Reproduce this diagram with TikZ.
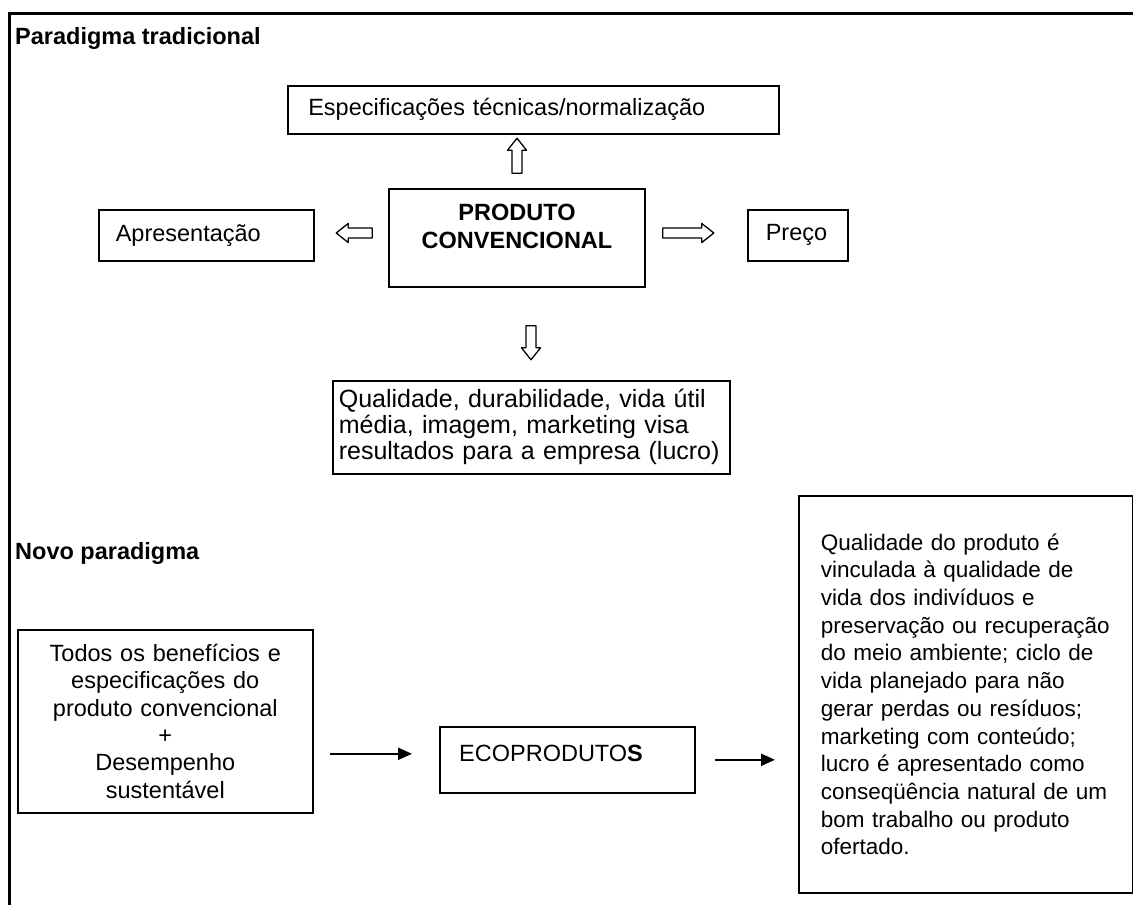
\documentclass[tikz,border=0pt]{standalone}
\usepackage{fontspec}
\setmainfont{Liberation Sans}
\usetikzlibrary{arrows.meta,calc}
\newcommand{\txtsize}[2]{\fontsize{#1}{#2}\selectfont}
\begin{document}
\begin{tikzpicture}[x=1pt,y=-1pt,
  every node/.style={font=\txtsize{23.5}{27}},
  box/.style={draw, line width=1.6pt, anchor=north west, inner ysep=0pt, align=left},
  plain/.style={inner sep=0pt},
  heading/.style={plain, anchor=base west, font=\bfseries\txtsize{23.5}{27}},
  thinarrow/.style={line width=2pt, -{Triangle[length=14pt,width=12pt]}},
  arrowline/.style={draw, line width=1.3pt, line join=round, fill=white},
  pics/harrow/.style={code={
    \path[arrowline] (0,-5) -- ({#1-12},-5) -- ({#1-12},-9.5) -- (#1,0)
      -- ({#1-12},9.5) -- ({#1-12},5) -- (0,5) -- cycle;}}
]
\fill[white] (0,0) rectangle (1133,905);
\useasboundingbox (0,0) rectangle (1133,905);

% outer frame (top and left sides)
\draw[line width=3pt] (9.5,906) -- (9.5,13) -- (1134,13);

% ---- traditional paradigm ----
\node[heading] (t1) at (15,44) {Paradigma tradicional};

\node[box, minimum height=48pt, text width=450pt, inner xsep=20.5pt] (spec) at (287,85)
  {Especificações técnicas/normalização};

\node[draw, line width=1.6pt, minimum width=256pt, minimum height=98pt, inner sep=0pt] (prod) at (517,238) {};
\node[plain, align=center, font=\bfseries\txtsize{23.5}{28}] (prodtxt) at ([yshift=12pt]prod.center)
  {PRODUTO\\CONVENCIONAL};

\node[box, minimum height=51pt, text width=181pt, inner xsep=17pt] (apres) at (98,209) {Apresentação};
\node[box, minimum height=51pt, text width=64pt, inner xsep=18pt] (preco) at (747,209) {Preço};

\node[box, minimum height=93pt, text width=385pt, inner xsep=6pt, font=\txtsize{25}{26}] (qual) at (332,380)
  {Qualidade, durabilidade, vida útil\\média, imagem, marketing visa\\resultados para a empresa (lucro)};

% hollow block arrows around the conventional product
\pic[rotate=90] at ([yshift=15pt]prod.north) {harrow=35};
\pic[rotate=-90] at ([xshift=14pt,yshift=-38pt]prod.south) {harrow=34};
\pic[rotate=180] at ([xshift=-16pt,yshift=5pt]prod.west) {harrow=36};
\pic at ([xshift=17pt,yshift=5pt]prod.east) {harrow=51};

% ---- new paradigm ----
\node[heading] (t2) at (15,559) {Novo paradigma};

\node[box, align=center, minimum height=183pt, text width=285pt, inner xsep=5pt, font=\txtsize{23.5}{27.4}] (todos) at (17,629)
  {Todos os benefícios e\\especificações do\\produto convencional\\+\\Desempenho\\sustentável};

\node[draw, line width=1.6pt, anchor=north west, minimum width=255pt, minimum height=66pt, inner sep=0pt] (eco) at (439,726) {};
\node[plain, anchor=west] (ecotxt) at ([xshift=20pt,yshift=6pt]eco.west) {ECOPRODUTO\textbf{S}};

\node[box, minimum height=397pt, text width=290pt, inner xsep=22pt, font=\txtsize{22.5}{27.7}] (result) at (798,495)
  {Qualidade do produto é\\
   vinculada à qualidade de\\
   vida dos indivíduos e\\
   preservação ou recuperação\\
   do meio ambiente; ciclo de\\
   vida planejado para não\\
   gerar perdas ou resíduos;\\
   marketing com conteúdo;\\
   lucro é apresentado como\\
   conseqüência natural de um\\
   bom trabalho ou produto\\
   ofertado.};

\draw[thinarrow, shorten <=16pt, shorten >=27pt] (todos.east |- ecotxt.west) -- (eco.west |- ecotxt.west);
\draw[thinarrow, shorten <=19pt, shorten >=23pt] (eco.east) -- (result.west |- eco.east);
\end{tikzpicture}
\end{document}
